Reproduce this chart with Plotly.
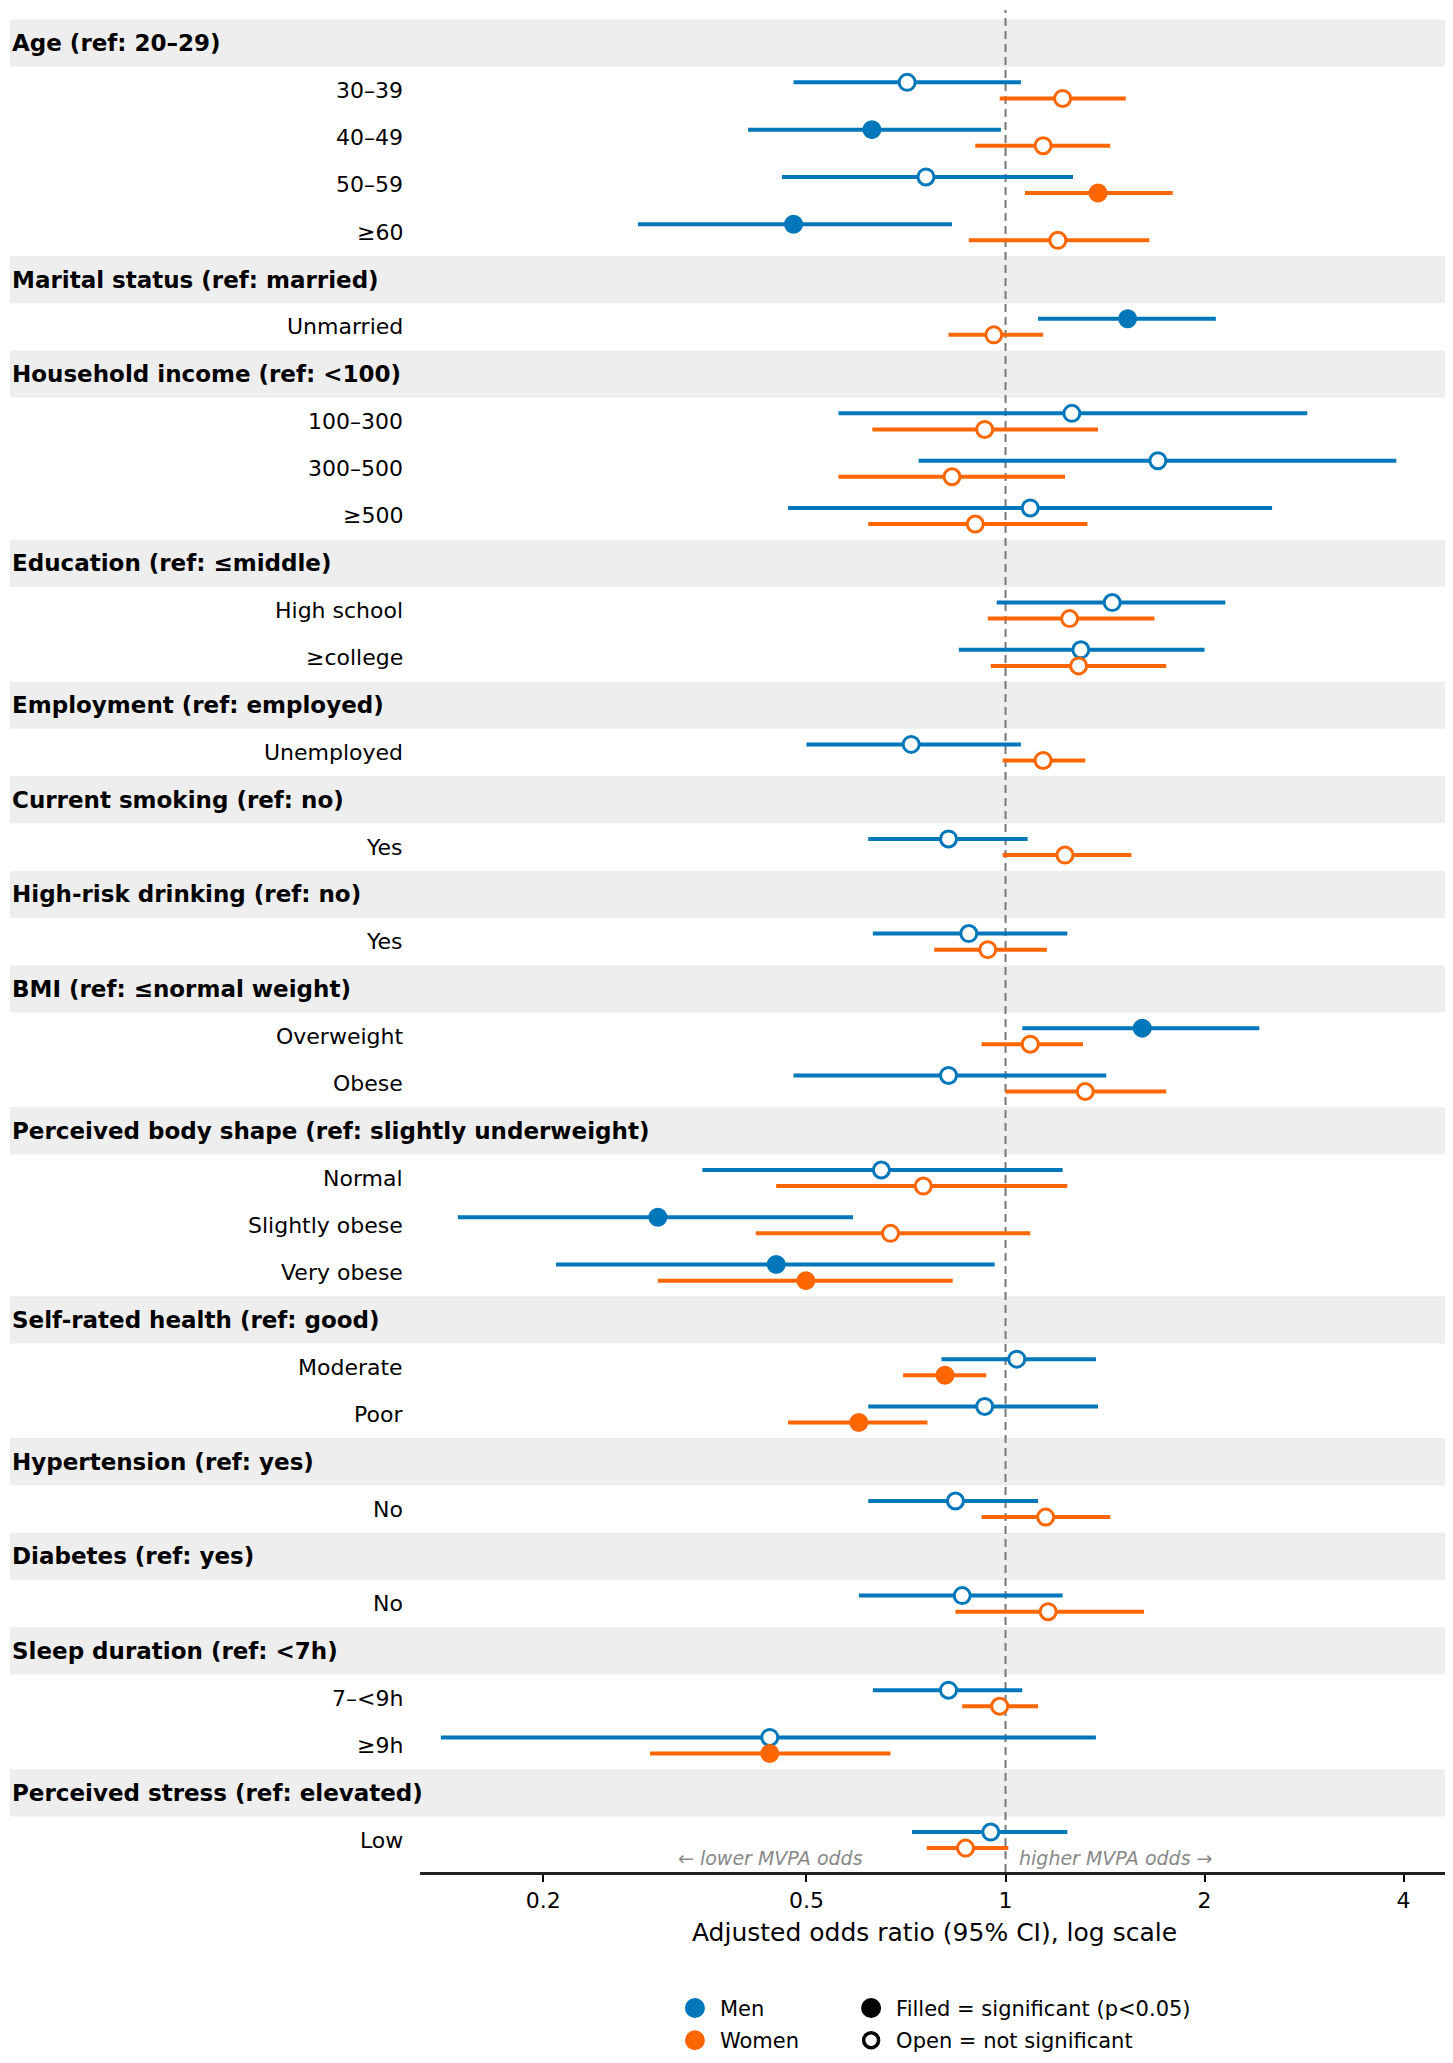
import plotly.graph_objects as go

# ---- data ----
sections = [
    ("Age (ref: 20–29)", ["30–39", "40–49", "50–59", "≥60"]),
    ("Marital status (ref: married)", ["Unmarried"]),
    ("Household income (ref: <100)", ["100–300", "300–500", "≥500"]),
    ("Education (ref: ≤middle)", ["High school", "≥college"]),
    ("Employment (ref: employed)", ["Unemployed"]),
    ("Current smoking (ref: no)", ["Yes"]),
    ("High-risk drinking (ref: no)", ["Yes"]),
    ("BMI (ref: ≤normal weight)", ["Overweight", "Obese"]),
    ("Perceived body shape (ref: slightly underweight)", ["Normal", "Slightly obese", "Very obese"]),
    ("Self-rated health (ref: good)", ["Moderate", "Poor"]),
    ("Hypertension (ref: yes)", ["No"]),
    ("Diabetes (ref: yes)", ["No"]),
    ("Sleep duration (ref: <7h)", ["7–<9h", "≥9h"]),
    ("Perceived stress (ref: elevated)", ["Low"]),
]

men_or = [0.71, 0.628, 0.758, 0.478, 1.53, 1.26, 1.70, 1.09, 1.45, 1.30, 0.72, 0.82, 0.88,
          1.61, 0.82, 0.649, 0.298, 0.45, 1.04, 0.93, 0.84, 0.86, 0.82, 0.44, 0.95]
men_lo = [0.478, 0.408, 0.459, 0.278, 1.12, 0.559, 0.739, 0.469, 0.97, 0.85, 0.50, 0.62, 0.63,
          1.06, 0.478, 0.348, 0.1485, 0.209, 0.80, 0.62, 0.62, 0.60, 0.63, 0.14, 0.722]
men_hi = [1.055, 0.984, 1.265, 0.83, 2.08, 2.86, 3.90, 2.53, 2.15, 2.00, 1.055, 1.08, 1.24,
          2.42, 1.42, 1.22, 0.588, 0.963, 1.37, 1.38, 1.12, 1.22, 1.06, 1.37, 1.24]
men_sig = [0, 1, 0, 1, 1, 0, 0, 0, 0, 0, 0, 0, 0,
           1, 0, 0, 1, 1, 0, 0, 0, 0, 0, 0, 0]

women_or = [1.22, 1.14, 1.38, 1.20, 0.96, 0.93, 0.83, 0.90, 1.25, 1.29, 1.14, 1.23, 0.94,
            1.09, 1.32, 0.751, 0.67, 0.499, 0.81, 0.60, 1.15, 1.16, 0.98, 0.44, 0.87]
women_lo = [0.98, 0.90, 1.07, 0.88, 0.82, 0.629, 0.559, 0.62, 0.94, 0.95, 0.99, 0.99, 0.78,
            0.92, 1.00, 0.45, 0.419, 0.298, 0.70, 0.469, 0.92, 0.84, 0.86, 0.29, 0.76]
women_hi = [1.52, 1.44, 1.79, 1.65, 1.14, 1.38, 1.23, 1.33, 1.68, 1.75, 1.32, 1.55, 1.155,
            1.31, 1.75, 1.24, 1.09, 0.832, 0.935, 0.762, 1.44, 1.62, 1.12, 0.67, 1.01]
women_sig = [0, 0, 1, 0, 0, 0, 0, 0, 0, 0, 0, 0, 0,
             0, 0, 0, 0, 1, 1, 1, 0, 0, 0, 1, 0]

tick_vals = [0.2, 0.5, 1, 2, 4]
tick_text = ["0.2", "0.5", "1", "2", "4"]

MEN = "#0077BB"
WOMEN = "#FF6600"
BAND = "#EEEEEE"
FONT = "DejaVu Sans"

# ---- row layout ----
header_rows = []
item_rows = []
item_labels = []
r = 0
for head, levels in sections:
    header_rows.append((r, head))
    r += 1
    for lv in levels:
        item_rows.append(r)
        item_labels.append(lv)
        r += 1
n_rows = r
off = 0.17

fig = go.Figure()


def ci_trace(lo, hi, rows, dy, color):
    xs, ys = [], []
    for a, b, row in zip(lo, hi, rows):
        xs += [a, b, None]
        ys += [row + dy, row + dy, None]
    return go.Scatter(x=xs, y=ys, mode="lines", line=dict(color=color, width=4),
                      showlegend=False, hoverinfo="skip")


def point_trace(vals, sig, rows, dy, color, want_sig):
    xs = [v for v, s in zip(vals, sig) if bool(s) == want_sig]
    ys = [row + dy for row, s in zip(rows, sig) if bool(s) == want_sig]
    return go.Scatter(
        x=xs, y=ys, mode="markers", showlegend=False,
        marker=dict(size=16, symbol="circle",
                    color=color if want_sig else "white",
                    line=dict(color=color, width=3)),
    )


fig.add_trace(ci_trace(men_lo, men_hi, item_rows, -off, MEN))
fig.add_trace(ci_trace(women_lo, women_hi, item_rows, off, WOMEN))
for want in (False, True):
    fig.add_trace(point_trace(men_or, men_sig, item_rows, -off, MEN, want))
    fig.add_trace(point_trace(women_or, women_sig, item_rows, off, WOMEN, want))

# legend entries
fig.add_trace(go.Scatter(x=[None], y=[None], mode="markers", name="Men", legend="legend",
                         legendgroup="m",
                         marker=dict(size=16, color=MEN, line=dict(color=MEN, width=4))))
fig.add_trace(go.Scatter(x=[None], y=[None], mode="markers", name="Women", legend="legend",
                         legendgroup="w",
                         marker=dict(size=16, color=WOMEN, line=dict(color=WOMEN, width=4))))
fig.add_trace(go.Scatter(x=[None], y=[None], mode="markers", name="Filled = significant (p<0.05)",
                         legend="legend2", legendgroup="f",
                         marker=dict(size=16, color="black", line=dict(color="black", width=4))))
fig.add_trace(go.Scatter(x=[None], y=[None], mode="markers", name="Open = not significant",
                         legend="legend2", legendgroup="o",
                         marker=dict(size=15, color="white", line=dict(color="black", width=3.5))))

# header bands and labels
shapes = []
annotations = []
for row, head in header_rows:
    shapes.append(dict(type="rect", xref="paper", yref="y", x0=-0.3984, x1=1,
                       y0=row - 0.5, y1=row + 0.5, fillcolor=BAND, line=dict(width=0),
                       layer="below"))
    annotations.append(dict(text="<b>%s</b>" % head, xref="paper", yref="y", x=-0.3984, y=row,
                            xanchor="left", yanchor="middle", showarrow=False,
                            font=dict(family=FONT, size=23, color="black")))
for row, lab in zip(item_rows, item_labels):
    annotations.append(dict(text=lab, xref="paper", yref="y", x=-0.0146, y=row,
                            xanchor="right", yanchor="middle", showarrow=False,
                            font=dict(family=FONT, size=22, color="black")))

shapes.append(dict(type="line", xref="x", yref="paper", x0=1, x1=1, y0=0, y1=1,
                   line=dict(color="#777777", width=2, dash="8px,5px"), layer="below"))

annotations.append(dict(text="<i>← lower MVPA odds</i>", xref="paper", yref="paper",
                        x=0.4325, y=0.0075, xanchor="right", yanchor="middle", showarrow=False,
                        font=dict(family=FONT, size=19, color="#888888")))
annotations.append(dict(text="<i>higher MVPA odds →</i>", xref="paper", yref="paper",
                        x=0.580, y=0.0075, xanchor="left", yanchor="middle", showarrow=False,
                        font=dict(family=FONT, size=19, color="#888888")))

# the page body adds an 8px offset, so the figure is laid out 8px up/left
fig.update_layout(
    width=1445, height=2055,
    margin=dict(l=412, r=4, t=2, b=186),
    plot_bgcolor="white", paper_bgcolor="white",
    font=dict(family=FONT, size=22, color="black"),
    shapes=shapes, annotations=annotations,
    xaxis=dict(type="log", range=[-0.8855, 0.6707], tickvals=tick_vals, ticktext=tick_text,
               ticks="outside", ticklen=7, tickwidth=1.5, tickcolor="black",
               showline=True, linewidth=2.5, linecolor="#222222", showgrid=False,
               zeroline=False, tickfont=dict(size=22),
               title=dict(text="Adjusted odds ratio (95% CI), log scale",
                          font=dict(size=25), standoff=12)),
    yaxis=dict(range=[n_rows - 1 + 0.675, -0.7], showticklabels=False, showgrid=False,
               zeroline=False, showline=False, ticks=""),
    legend=dict(x=0.2429, y=-0.0622, xanchor="left", yanchor="top", orientation="v",
                font=dict(size=21), itemwidth=40, tracegroupgap=2, traceorder="grouped"),
    legend2=dict(x=0.4141, y=-0.0622, xanchor="left", yanchor="top", orientation="v",
                 font=dict(size=21), itemwidth=40, tracegroupgap=2, traceorder="grouped"),
)

fig.write_html("out.html")
